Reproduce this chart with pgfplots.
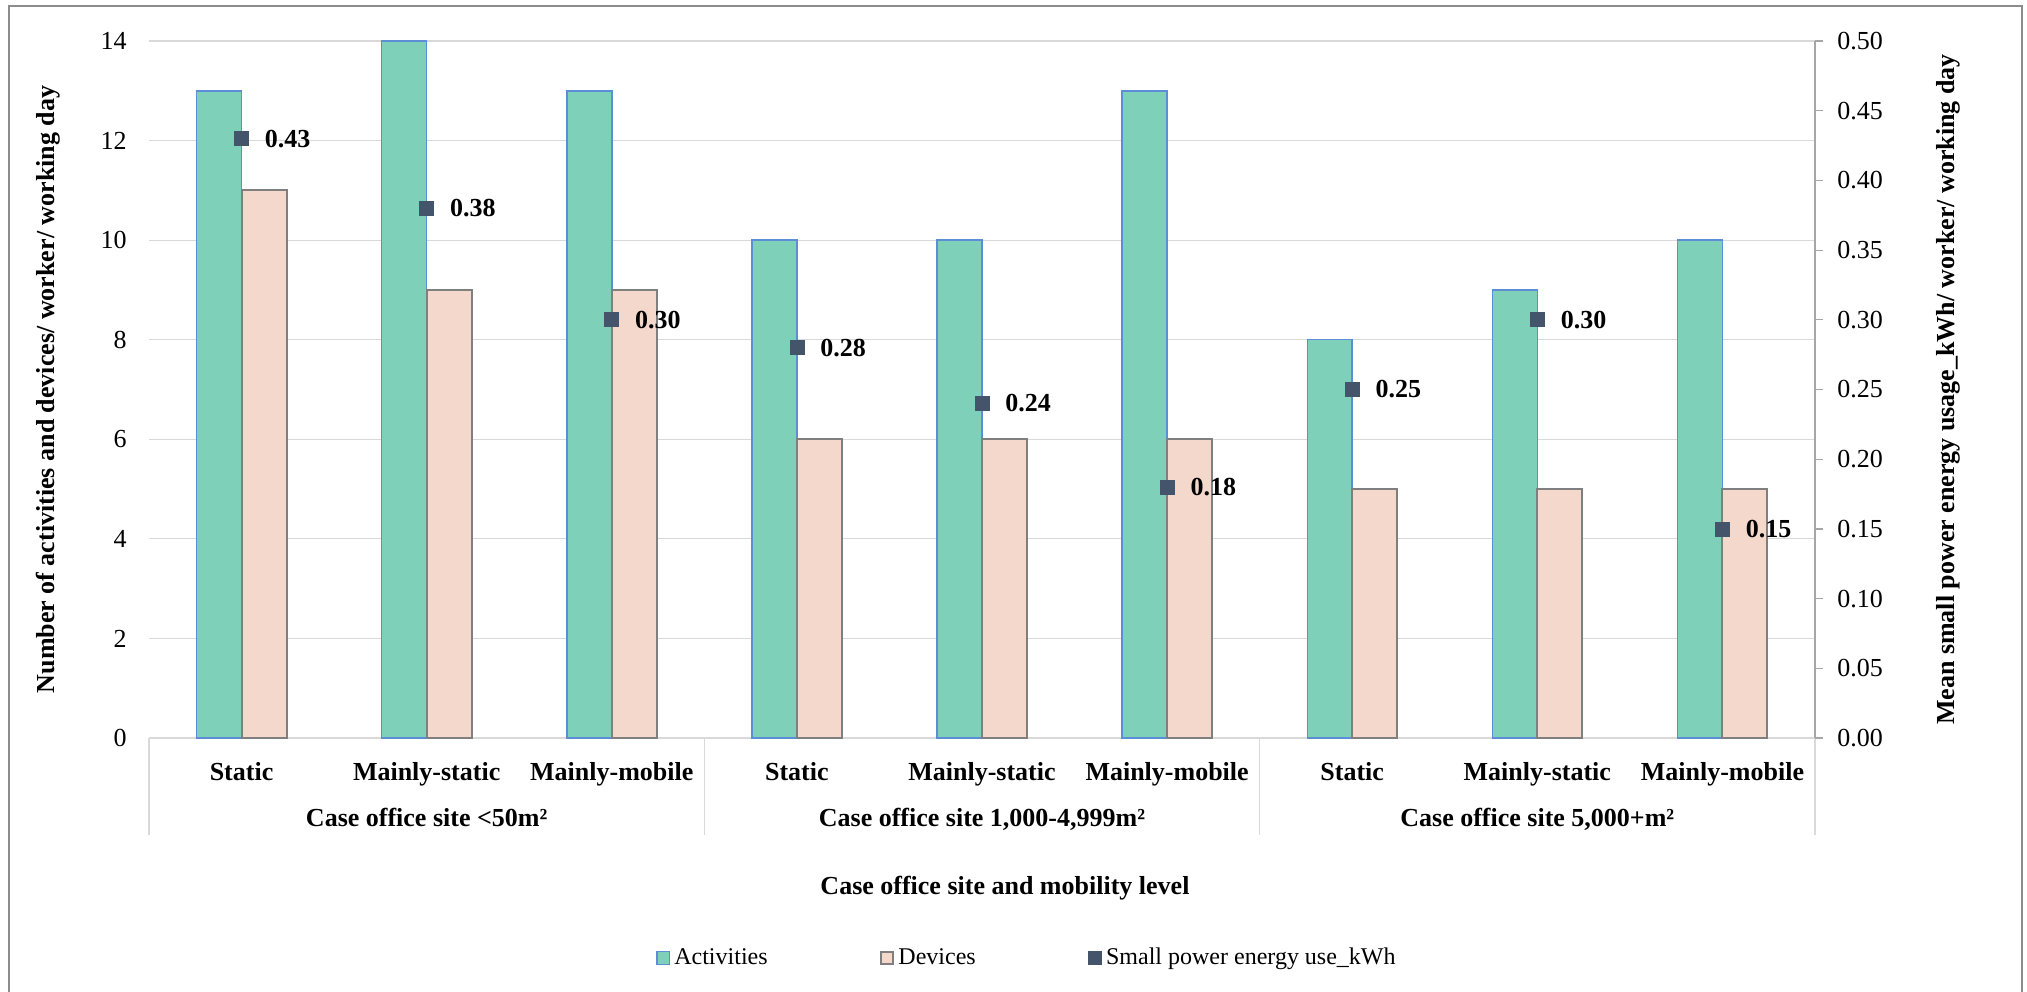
\documentclass[border=0pt]{standalone}
\usepackage{fontspec}
\setmainfont{Liberation Serif}
\usepackage{pgfplots}
\pgfplotsset{compat=1.18}
\usepackage{pgfplotstable}

\definecolor{actfill}{HTML}{7FD0B9}
\definecolor{actedge}{HTML}{5B8ED6}
\definecolor{devfill}{HTML}{F4D8CC}
\definecolor{devedge}{HTML}{7F7F7F}
\definecolor{kwh}{HTML}{44546A}
\definecolor{gridc}{HTML}{D9D9D9}
\definecolor{axisc}{HTML}{A6A6A6}
\definecolor{framec}{HTML}{8C8C8C}

% activities, devices and mean small power energy use per site / mobility level
\pgfplotstableread{
x act dev kwh
0 13 11 0.43
1 14 9  0.38
2 13 9  0.30
3 10 6  0.28
4 10 6  0.24
5 13 6  0.18
6 8  5  0.25
7 9  5  0.30
8 10 5  0.15
}\datatable

\newcommand{\tickfont}{\fontsize{13}{15}\selectfont}
\newcommand{\boldfont}{\fontsize{13}{15}\selectfont\bfseries}

\begin{document}
\begin{tikzpicture}
\path[use as bounding box] (0,0) rectangle (1013.5pt,495.5pt);
\draw[framec, line width=0.75pt] (4.5pt,-2pt) -- (4.5pt,492.5pt) -- (1011pt,492.5pt) -- (1011pt,-2pt);

\pgfplotsset{
  common/.style={
    width=833pt, height=348.5pt, scale only axis,
    at={(74.5pt,126.5pt)}, anchor=south west,
    xmin=-0.5, xmax=8.5,
    /pgf/number format/assume math mode=true,
    ticklabel style={font=\tickfont},
    clip=false,
  }
}

\begin{axis}[common,
  ymin=0, ymax=14, ytick={0,2,...,14},
  axis x line*=bottom, axis y line*=left,
  y axis line style={draw=none},
  x axis line style={gridc, line width=0.6pt, -},
  ymajorgrids, grid style={gridc, line width=0.6pt},
  major tick length=0pt,
  yticklabel style={anchor=east, inner sep=0pt, xshift=-11pt},
  xtick={0,...,8},
  xticklabels={Static, Mainly-static, Mainly-mobile, Static, Mainly-static, Mainly-mobile, Static, Mainly-static, Mainly-mobile},
  xticklabel style={font=\boldfont, anchor=base, inner sep=0pt, yshift=-21pt},
  legend style={at={(axis description cs:0.5276,-0.3156)}, anchor=center,
    draw=none, fill=none, legend columns=3, font=\fontsize{12}{14}\selectfont,
    /tikz/every even column/.append style={column sep=54pt}},
]
\addplot[ybar, bar width=0.243, bar shift=-0.1215, fill=actfill, draw=actedge,
  line width=0.75pt, forget plot] table[x=x, y=act]{\datatable};
\addplot[ybar, bar width=0.243, bar shift=0.1215, fill=devfill, draw=devedge,
  line width=1pt, forget plot] table[x=x, y=dev]{\datatable};

\addlegendimage{legend image code/.code={\draw[fill=actfill, draw=actedge, line width=0.6pt] (0pt,-3.2pt) rectangle (6.4pt,3.2pt);}}
\addlegendentry{Activities}
\addlegendimage{legend image code/.code={\draw[fill=devfill, draw=devedge, line width=1pt] (0pt,-3.2pt) rectangle (6.4pt,3.2pt);}}
\addlegendentry{Devices}
\addlegendimage{legend image code/.code={\fill[kwh] (0pt,-3.4pt) rectangle (6.8pt,3.4pt);}}
\addlegendentry{Small power energy use\_kWh}

% category table below the plot
\draw[gridc, line width=0.6pt] (axis cs:-0.5,0) -- ++(0pt,-48.5pt);
\draw[gridc, line width=0.6pt] (axis cs:2.5,0) -- ++(0pt,-48.5pt);
\draw[gridc, line width=0.6pt] (axis cs:5.5,0) -- ++(0pt,-48.5pt);
\draw[gridc, line width=0.6pt] (axis cs:8.5,0) -- ++(0pt,-48.5pt);
\node[font=\boldfont, anchor=base] at ([yshift=-44pt]axis cs:1,0) {Case office site <50m²};
\node[font=\boldfont, anchor=base] at ([yshift=-44pt]axis cs:4,0) {Case office site 1,000-4,999m²};
\node[font=\boldfont, anchor=base] at ([yshift=-44pt]axis cs:7,0) {Case office site 5,000+m²};

\node[font=\boldfont] at ([yshift=-75pt]rel axis cs:0.5138,0) {Case office site and mobility level};
\node[font=\boldfont, rotate=90] at ([xshift=-50.5pt]rel axis cs:0,0.5) {Number of activities and devices/ worker/ working day};
\node[font=\boldfont, rotate=90] at ([xshift=66.5pt]rel axis cs:1,0.5) {Mean small power energy usage\_kWh/ worker/ working day};
\end{axis}

\begin{axis}[common,
  ymin=0, ymax=0.5,
  ytick={0,0.05,0.10,0.15,0.20,0.25,0.30,0.35,0.40,0.45,0.50},
  axis y line*=right, axis x line=none,
  y axis line style={axisc, line width=0.6pt, -},
  ytick style={axisc, line width=0.6pt},
  tick align=outside, major tick length=4pt,
  yticklabel style={anchor=west, inner sep=0pt, xshift=7pt,
    /pgf/number format/.cd, fixed, fixed zerofill, precision=2},
]
\addplot[only marks, mark=square*, mark size=3.5pt, color=kwh,
  point meta=y, nodes near coords,
  nodes near coords style={text=black, font=\boldfont, anchor=west, inner sep=0pt, xshift=11.5pt,
    /pgf/number format/.cd, fixed, fixed zerofill, precision=2}]
  table[x=x, y=kwh]{\datatable};
\end{axis}
\end{tikzpicture}
\end{document}
